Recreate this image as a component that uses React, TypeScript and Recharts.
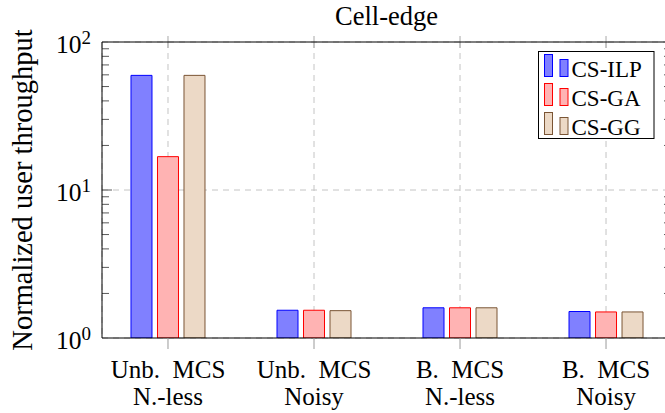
import React from 'react';
import { BarChart, Bar, XAxis, YAxis, CartesianGrid, Legend, Label, ReferenceLine } from 'recharts';

const FONT = '"Liberation Serif", Tinos, "Times New Roman", "DejaVu Serif", serif';

const categoryLine1 = ['Unb.  MCS', 'Unb.  MCS', 'B.  MCS', 'B.  MCS'];
const categoryLine2 = ['N.-less', 'Noisy', 'N.-less', 'Noisy'];
const seriesNames = ['CS-ILP', 'CS-GA', 'CS-GG'];
const csIlp = [59.5, 1.54, 1.6, 1.51];
const csGa = [16.8, 1.54, 1.6, 1.5];
const csGg = [59.5, 1.53, 1.6, 1.5];
const yMajorTicks = [1, 10, 100];
const yMinorTicks = [2, 3, 4, 5, 6, 7, 8, 9, 20, 30, 40, 50, 60, 70, 80, 90];
const xTicks = [0, 1, 2, 3];
const xDomain = [-0.452, 3.445];
const yDomain = [1, 100];
const title = 'Cell-edge';
const yTitle = 'Normalized user throughput';

const keys = ['ilp', 'ga', 'gg'];
const fills = ['#8080ff', '#ffb3b3', '#ecd9c6'];
const strokes = ['#0000ff', '#ff0000', '#7a5535'];

// tick mark lengths expressed in axis units (x: category index units, y: decades)
const minorLenX = 7 / 146;
const majorLenX = 10 / 146;
const topTickOut = 6 / 148;
const topTickIn = 6 / 148;

const data = categoryLine1.map((_, i) => ({ idx: i, ilp: csIlp[i], ga: csGa[i], gg: csGg[i] }));

const txt = (size: number): React.CSSProperties => ({ fontFamily: FONT, fontSize: size, whiteSpace: 'pre' });

const XTick = (props: any) => {
  const { x, y, payload } = props;
  const i = payload.value;
  return (
    <text x={x} y={y} textAnchor="middle" fill="#000" fontSize={25} fontFamily="Liberation Serif" style={txt(25)}>
      <tspan x={x} dy={29}>{categoryLine1[i]}</tspan>
      <tspan x={x} dy={27}>{categoryLine2[i]}</tspan>
    </text>
  );
};

const YTick = (props: any) => {
  const { x, y, payload } = props;
  const exp = Math.round(Math.log10(payload.value));
  return (
    <text x={x} y={y + 10.5} textAnchor="end" fill="#000" fontSize={25.5} fontFamily="Liberation Serif" style={txt(25.5)}>
      10<tspan dy={-9} fontSize={19} style={txt(19)}>{exp}</tspan>
    </text>
  );
};

const YTitle = (props: any) => {
  const vb = props.viewBox;
  const cx = vb.x + 32;
  const cy = vb.y + vb.height / 2;
  return (
    <text x={cx} y={cy} textAnchor="middle" fill="#000" fontSize={28.5} fontFamily="Liberation Serif" style={txt(28.5)} transform={`rotate(-90 ${cx} ${cy})`}>
      {yTitle}
    </text>
  );
};

const TitleLabel = (props: any) => {
  const vb = props.viewBox;
  return (
    <text x={vb.x + vb.width / 2} y={vb.y + vb.height - 17.5} textAnchor="middle" fill="#000" fontSize={26.5} fontFamily="Liberation Serif" style={txt(26.5)}>
      {title}
    </text>
  );
};

const renderLegend = () => (
  <svg width={117} height={89} style={{ display: 'block' }}>
    <rect x={0.5} y={0.5} width={115.5} height={87} fill="#fff" stroke="#000" strokeWidth={1} />
    {seriesNames.map((name, i) => {
      const by = 25.5 + 29 * i;
      return (
        <g key={name}>
          <rect x={6.5} y={by - 22} width={8} height={22} fill={fills[i]} stroke={strokes[i]} strokeWidth={1} />
          <rect x={22} y={by - 17} width={8} height={17} fill={fills[i]} stroke={strokes[i]} strokeWidth={1} />
          <text x={33.5} y={by} fill="#000" fontSize={23} fontFamily="Liberation Serif" style={txt(23)}>{name}</text>
        </g>
      );
    })}
  </svg>
);

export default function App() {
  const [x0, x1] = xDomain;
  const [, yMax] = yDomain;
  return (
    <div style={{ position: 'absolute', left: 0, top: 0, width: 665, height: 413, overflow: 'hidden', background: '#fff' }}>
      <BarChart
        width={672}
        height={413}
        data={data}
        margin={{ top: 41, right: 1, bottom: 0, left: 0 }}
        barSize={21}
        barGap={5.5}
      >
        <CartesianGrid xAxisId="x" yAxisId="y" stroke="#c4c4c4" strokeDasharray="6 5" />
        <XAxis
          xAxisId="x"
          dataKey="idx"
          type="number"
          domain={xDomain}
          ticks={xTicks}
          allowDataOverflow
          height={75}
          tickSize={11}
          tickMargin={0}
          tickLine={{ stroke: '#9a9a9a' }}
          axisLine={{ stroke: '#000' }}
          tick={<XTick />}
          interval={0}
        />
        <XAxis
          xAxisId="top"
          orientation="top"
          dataKey="idx"
          type="number"
          domain={xDomain}
          ticks={xTicks}
          allowDataOverflow
          height={1}
          tickSize={0}
          tick={false}
          tickLine={false}
          axisLine={{ stroke: '#000' }}
        >
          <Label content={<TitleLabel />} />
        </XAxis>
        <YAxis
          yAxisId="y"
          scale="log"
          type="number"
          domain={yDomain}
          ticks={yMajorTicks}
          allowDataOverflow
          width={102}
          tickSize={0}
          tickMargin={11}
          tickLine={false}
          axisLine={{ stroke: '#000' }}
          tick={<YTick />}
          interval={0}
        >
          <Label content={<YTitle />} />
        </YAxis>
        <YAxis
          yAxisId="right"
          orientation="right"
          mirror
          width={1}
          scale="log"
          type="number"
          domain={yDomain}
          ticks={yMajorTicks}
          allowDataOverflow
          tick={false}
          tickLine={false}
          axisLine={{ stroke: '#000' }}
        />
        {yMinorTicks.map((v) => (
          <ReferenceLine
            key={`ml-${v}`}
            xAxisId="x"
            yAxisId="y"
            segment={[{ x: x0, y: v }, { x: x0 + minorLenX, y: v }]}
            stroke="#5a5a5a"
            strokeWidth={1}
            ifOverflow="visible"
          />
        ))}
        {yMinorTicks.map((v) => (
          <ReferenceLine
            key={`mr-${v}`}
            xAxisId="x"
            yAxisId="y"
            segment={[{ x: x1 - minorLenX, y: v }, { x: x1, y: v }]}
            stroke="#5a5a5a"
            strokeWidth={1}
            ifOverflow="visible"
          />
        ))}
        <ReferenceLine
          xAxisId="x"
          yAxisId="y"
          segment={[{ x: x0, y: 10 }, { x: x0 + majorLenX, y: 10 }]}
          stroke="#5a5a5a"
          strokeWidth={1}
          ifOverflow="visible"
        />
        {xTicks.map((t) => (
          <ReferenceLine
            key={`tt-${t}`}
            xAxisId="x"
            yAxisId="y"
            segment={[{ x: t, y: yMax * Math.pow(10, -topTickIn) }, { x: t, y: yMax * Math.pow(10, topTickOut) }]}
            stroke="#a8a8a8"
            strokeWidth={1}
            ifOverflow="visible"
          />
        ))}
        <Legend
          layout="vertical"
          align="center"
          verticalAlign="middle"
          content={renderLegend}
          wrapperStyle={{ position: 'absolute', left: 538, top: 51, width: 117, height: 89 }}
        />
        {keys.map((k, i) => (
          <Bar
            key={k}
            dataKey={k}
            name={seriesNames[i]}
            xAxisId="x"
            yAxisId="y"
            fill={fills[i]}
            stroke={strokes[i]}
            strokeWidth={1}
            isAnimationActive={false}
          />
        ))}
      </BarChart>
    </div>
  );
}
